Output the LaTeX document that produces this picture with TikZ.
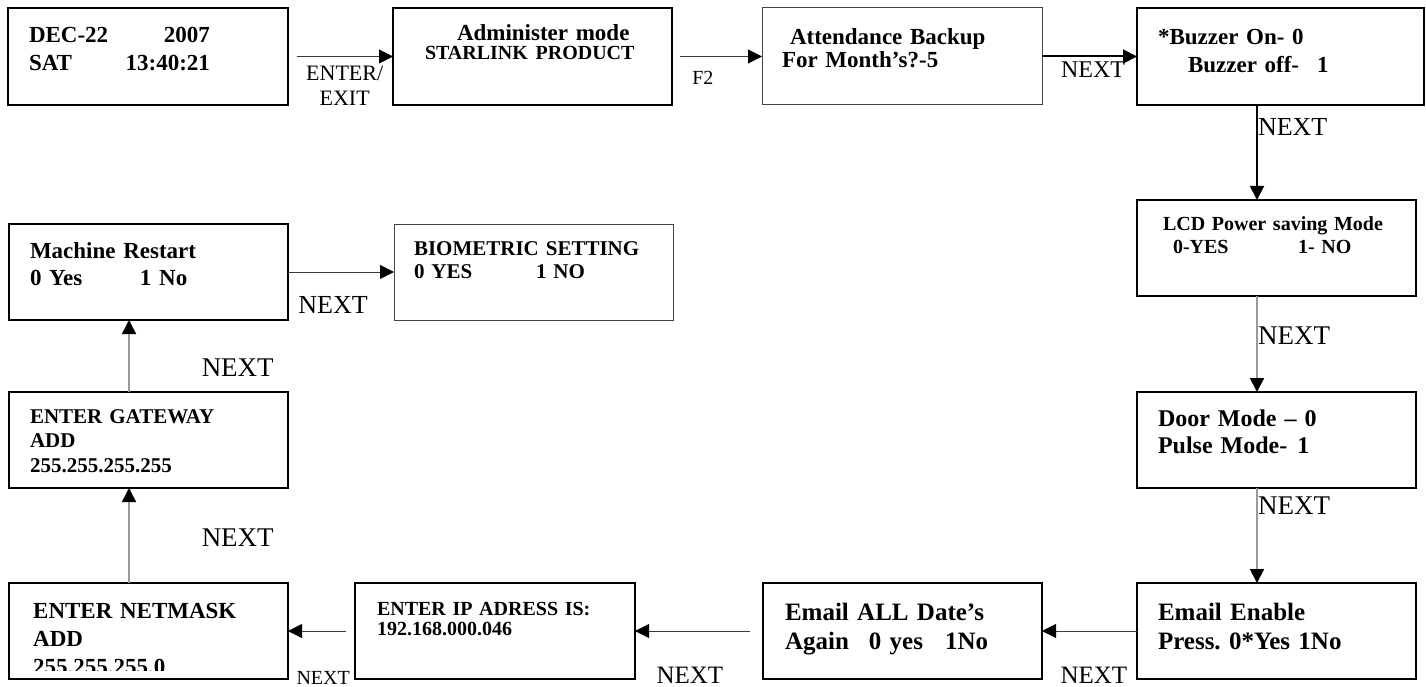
\documentclass[tikz,border=0pt]{standalone}
\usepackage{fontspec}
\setmainfont{Liberation Serif}
\usetikzlibrary{positioning, arrows.meta}
\definecolor{linegray}{HTML}{9A9A9A}
\definecolor{darkline}{HTML}{3A3A3A}
\definecolor{framegray}{HTML}{444444}
\newcommand{\setsz}[2]{\fontsize{#1}{#2}\selectfont}
\frenchspacing
\tikzset{
  screen/.style={rectangle, draw, line width=2pt, inner sep=0pt, outer sep=0pt, align=left},
  thinscreen/.style={screen, draw=framegray, line width=1pt},
  line/.style={draw, line width=1pt, -{Triangle[length=14pt, width=14pt, color=black]}},
  graylink/.style={line, draw=linegray, line width=2pt},
  lbl/.style={inner sep=0pt, anchor=base west, font=\setsz{26}{26}},
}
\begin{document}
\begin{tikzpicture}[x=1pt, y=-1pt]
  \useasboundingbox (0,0) rectangle (1426,687);
  % Top row
  \node [screen, anchor=north west, text width=238pt, inner xsep=21pt, text height=35pt, text depth=62pt,
    font=\bfseries\setsz{23}{28}] (date) at (8,8)
    {\makebox[181pt][l]{DEC-22\hfill 2007}\\\makebox[181pt][l]{SAT\hfill 13:40:21}};
  \node [screen, right=105pt of date, text width=215pt, inner xsep=32pt, text height=33pt, text depth=64pt,
    font=\bfseries\setsz{23}{19}] (admin)
    {\hspace*{32pt}Administer mode\\{\setsz{20}{19}STARLINK PRODUCT}};
  \node [thinscreen, right=90pt of admin, text width=240pt, inner xsep=20pt, text height=37pt, text depth=60pt,
    font=\bfseries\setsz{23}{23}] (attend)
    {\hspace*{8pt}Attendance Backup\\For Month's?-5};
  \node [screen, right=95pt of attend, text width=245pt, inner xsep=21pt, text height=37pt, text depth=60pt,
    font=\bfseries\setsz{23}{28}] (buzzer)
    {*Buzzer On- 0\\\hspace*{30pt}Buzzer off-\hspace{18pt}1};
  % Right column
  \node [screen, below=95pt of buzzer.south west, anchor=north west, text width=227pt, inner xsep=26pt,
    text height=30pt, text depth=66pt, font=\bfseries\setsz{20}{23}] (lcd)
    {LCD Power saving Mode\\\hspace*{10pt}\makebox[125pt][l]{0-YES}1- NO};
  \node [screen, below=96pt of lcd, text width=237pt, inner xsep=21pt, text height=34pt, text depth=62pt,
    font=\bfseries\setsz{24}{27}] (door)
    {Door Mode -- 0\\Pulse Mode-\hspace{10pt}1};
  \node [screen, below=95pt of door, text width=237pt, inner xsep=21pt, text height=37pt, text depth=59pt,
    font=\bfseries\setsz{25}{29}] (enable)
    {Email Enable\\Press. 0*Yes 1No};
  % Bottom row
  \node [screen, left=95pt of enable, text width=235pt, inner xsep=22pt, text height=37pt, text depth=59pt,
    font=\bfseries\setsz{25}{29}] (again)
    {Email ALL Date's\\Again\hspace{20pt}0 yes\hspace{22pt}1No};
  \node [screen, left=128pt of again, text width=236pt, inner xsep=22pt, text height=32pt, text depth=64pt,
    font=\bfseries\setsz{20}{20}] (ipaddr)
    {ENTER IP ADRESS IS:\\192.168.000.046};
  \node [screen, left=67pt of ipaddr, minimum width=279pt, minimum height=96pt] (netmask) {};
  \begin{scope}
    \clip (netmask.north west) rectangle ([yshift=9pt]netmask.south east);
    \node [anchor=north west, inner sep=0pt, align=left, text width=235pt, text height=35pt,
      font=\bfseries\setsz{23}{28}] (netmasktext) at ([xshift=24pt]netmask.north west)
      {ENTER NETMASK\\ADD\\255.255.255.0};
  \end{scope}
  % Left column
  \node [screen, above=95pt of netmask, text width=237pt, inner xsep=21pt, text height=31pt, text depth=65pt,
    font=\bfseries\setsz{21}{24.5}] (gateway)
    {ENTER GATEWAY\\ADD\\255.255.255.255};
  \node [screen, above=72pt of gateway, text width=237pt, inner xsep=21pt, text height=34pt, text depth=62pt,
    font=\bfseries\setsz{23}{27}] (restart)
    {Machine Restart\\\makebox[110pt][l]{0 Yes}1 No};
  \node [thinscreen, right=106pt of restart, text width=239pt, inner xsep=20pt, text height=31pt, text depth=65pt,
    font=\bfseries\setsz{21}{23}] (bio)
    {BIOMETRIC SETTING\\\makebox[122pt][l]{0 YES}1 NO};
  % Draw edges
  \path [line, draw=darkline, shorten <=9pt] (date) -- node [pos=.54, anchor=north, yshift=-8.5pt, inner sep=0pt,
    align=center, font=\setsz{22}{25}] {ENTER/\\EXIT} (admin);
  \path [line, draw=darkline, shorten <=8pt] (admin) -- node [lbl, pos=.22, yshift=-28.5pt, font=\setsz{20}{20}] {F2} (attend);
  \path [line, line width=2pt] (attend) -- node [lbl, pos=.19, yshift=-21.5pt, font=\setsz{24}{24}] {NEXT} (buzzer);
  \path [line, line width=2pt] ([xshift=120pt]buzzer.south west) -- node [lbl, pos=.32] {NEXT} ([xshift=120pt]lcd.north west);
  \path [graylink] ([xshift=120pt]lcd.south west) -- node [lbl, pos=.51, font=\setsz{27}{27}] {NEXT} ([xshift=120pt]door.north west);
  \path [graylink] ([xshift=120pt]door.south west) -- node [lbl, pos=.28, font=\setsz{27}{27}] {NEXT} ([xshift=120pt]enable.north west);
  \path [line, draw=darkline] (enable) -- node [lbl, pos=.81, yshift=-52pt, font=\setsz{25}{25}] {NEXT} (again);
  \path [line, draw=darkline, shorten <=13pt] (again) -- node [lbl, pos=.836, yshift=-52pt, font=\setsz{25}{25}] {NEXT} (ipaddr);
  \path [line, draw=darkline, shorten <=9pt] (ipaddr) -- node [lbl, pos=.88, yshift=-53pt, font=\setsz{20}{20}] {NEXT} (netmask);
  \path [graylink, line width=1.5pt] ([xshift=120pt]netmask.north west) -- node [lbl, pos=.38, xshift=72pt, font=\setsz{27}{27}] {NEXT} ([xshift=120pt]gateway.south west);
  \path [graylink, line width=1.5pt] ([xshift=120pt]gateway.north west) -- node [lbl, pos=.21, xshift=72pt, font=\setsz{27}{27}] {NEXT} ([xshift=120pt]restart.south west);
  \path [line, draw=darkline] (restart) -- node [lbl, pos=.094, yshift=-41pt] {NEXT} (bio);
\end{tikzpicture}
\end{document}
